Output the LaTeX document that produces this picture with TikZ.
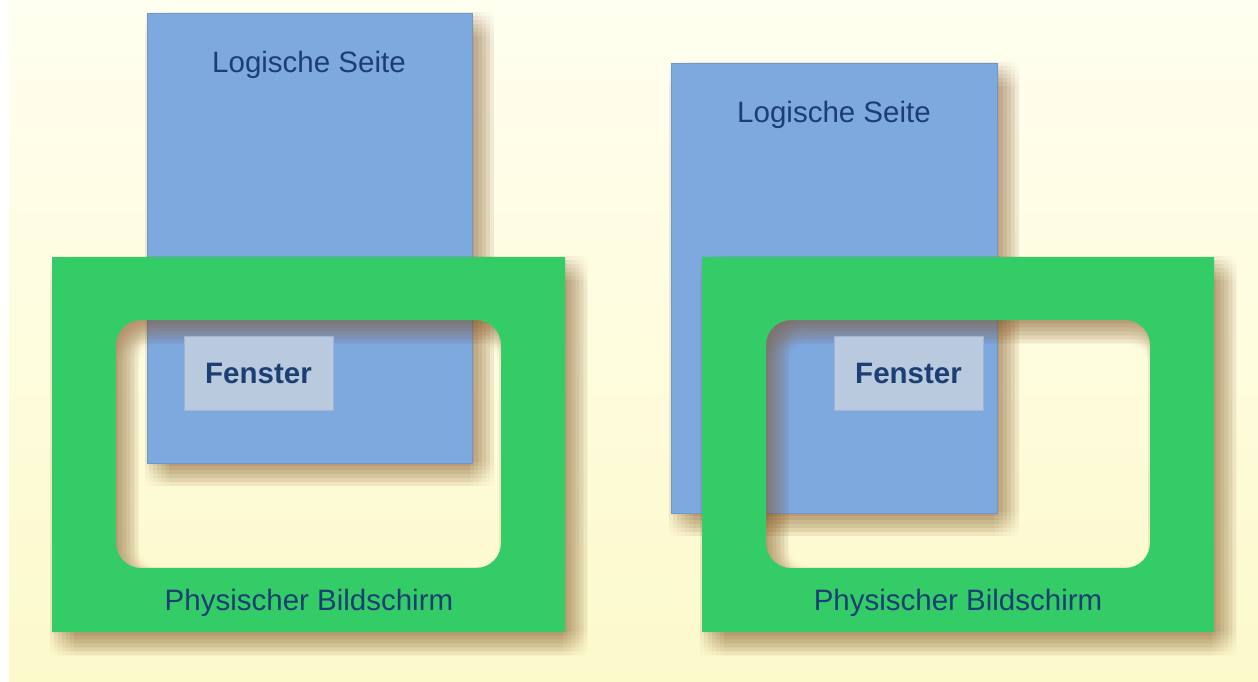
\documentclass[tikz,border=0pt]{standalone}
\usepackage{fontspec}
\setmainfont{Liberation Sans}
\definecolor{bgtop}{HTML}{FFFFF0}
\definecolor{bgbot}{HTML}{FCF9CB}
\definecolor{pageblue}{HTML}{7DA9DF}
\definecolor{pageedge}{HTML}{6F97C9}
\definecolor{framegreen}{HTML}{33CC66}
\definecolor{winfill}{HTML}{B9C9DE}
\definecolor{winedge}{HTML}{9FB5D2}
\definecolor{txt}{HTML}{1B3F72}
\definecolor{shadowc}{HTML}{8E5A28}
\tikzset{
  pagebox/.style={fill=pageblue, draw=pageedge, line width=0.8, minimum width=#1, minimum height=450, inner sep=0, outer sep=0},
  winbox/.style={fill=winfill, draw=winedge, line width=0.6, minimum width=149, minimum height=74, inner sep=0, outer sep=0,
    font=\fontsize{29.5}{35}\selectfont\bfseries, text=txt},
  lbl/.style={font=\fontsize{29.5}{35}\selectfont, text=txt, inner sep=0, anchor=base},
  framefill/.style={fill=framegreen, even odd rule},
}
\newcommand\softshade[1]{%
  \foreach \u in {-12,-8,-4,0,4,8,12}{%
    \foreach \v in {-12,-8,-4,0,4,8,12}{%
      \path[fill=shadowc, fill opacity=0.016, even odd rule, shift={(10+\u,11+\v)}] #1;}}%
}
\begin{document}
\begin{tikzpicture}[x=1pt,y=-1pt]
\useasboundingbox (0,0) rectangle (1258,681);
\fill[white] (0,0) rectangle (1258,681);
\shade[top color=bgtop, bottom color=bgbot] (9,0) rectangle (1258,681);
% ---------- left ----------
\softshade{(147,13) rectangle (472,463)}
\node[pagebox=325] (pageL) at (309.5,238) {};
\node[lbl] (lsL) at (309,72) {Logische Seite};
\softshade{(52,257) rectangle (565,632) [rounded corners=25] (116,320) rectangle (501,568)}
\path[framefill] (52,257) rectangle (565,632) [rounded corners=25] (116,320) rectangle (501,568);
\coordinate (frameL) at (308.5,444.5);
\node[lbl] (pbL) at (309,610) {Physischer Bildschirm};
\node[winbox] (winL) at (258.5,373) {Fenster};
% ---------- right ----------
\softshade{(671,63) rectangle (997,513)}
\node[pagebox=326] (pageR) at (834,288) {};
\node[lbl] (lsR) at (834,122) {Logische Seite};
\softshade{(702,257) rectangle (1214,632) [rounded corners=25] (766,320) rectangle (1150,568)}
\path[framefill] (702,257) rectangle (1214,632) [rounded corners=25] (766,320) rectangle (1150,568);
\coordinate (frameR) at (958,444.5);
\node[lbl] (pbR) at (958,610) {Physischer Bildschirm};
\node[winbox] (winR) at (908.5,373) {Fenster};
\end{tikzpicture}
\end{document}
